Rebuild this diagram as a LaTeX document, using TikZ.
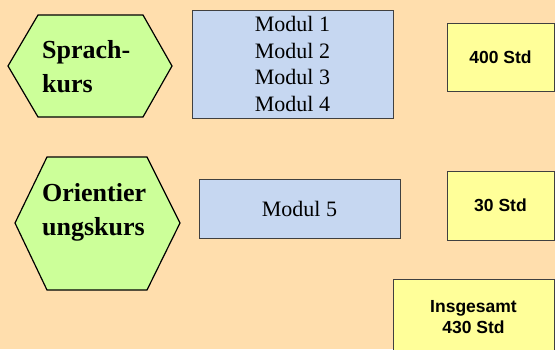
\documentclass[tikz,border=0pt]{standalone}
\usepackage{fontspec}
\setmainfont{Liberation Serif}
\newfontfamily\timesfont{Liberation Serif}
\newfontfamily\arialfont{Liberation Sans}
\definecolor{peach}{RGB}{255,222,173}
\definecolor{hexgreen}{RGB}{204,255,153}
\definecolor{modblue}{RGB}{198,215,241}
\definecolor{stdyellow}{RGB}{255,255,153}
\tikzset{
  hexa/.style={draw=black, fill=hexgreen, line width=1.2pt, line join=miter},
  hextext/.style={align=left, anchor=west, inner sep=0pt,
    font=\timesfont\fontsize{26}{34}\selectfont\bfseries},
  modbox/.style={draw=black!75, fill=modblue, line width=0.8pt, align=center,
    inner sep=0pt, font=\timesfont\fontsize{22}{26.5}\selectfont},
  stdbox/.style={draw=black!75, fill=stdyellow, line width=0.8pt, align=center,
    inner sep=0pt, font=\arialfont\fontsize{17.5}{21}\selectfont\bfseries}
}
\begin{document}
\begin{tikzpicture}[x=1pt, y=-1pt]
\useasboundingbox (0,0) rectangle (555,349);
\fill[peach] (0,0) rectangle (555,349);

% Sprachkurs
\draw[hexa] (8,66) -- (38,15) -- (143,15) -- (172,66) -- (143,117) -- (38,117) -- cycle;
\node[hextext] (sprach) at (42,67) {Sprach-\\kurs};
\node[modbox, minimum width=201pt, minimum height=108pt] (mod14) at (292.5,64)
  {Modul 1\\Modul 2\\Modul 3\\Modul 4};
\node[stdbox, minimum width=107pt, minimum height=68pt] (std400) at (500.5,57) {400 Std};

% Orientierungskurs
\draw[hexa] (15,223) -- (47,157) -- (147,157) -- (180,223) -- (147,290) -- (47,290) -- cycle;
\node[hextext] (orient) at (42,212) {Orientier\\ungskurs};
\node[modbox, minimum width=201pt, minimum height=59pt] (mod5) at (299.5,208.5) {Modul 5};
\node[stdbox, minimum width=107pt, minimum height=69pt] (std30) at (500.5,205.5) {30 Std};

% Summe
\node[stdbox, minimum width=161pt, minimum height=76pt] (total) at (473.5,317)
  {Insgesamt\\430 Std};
\end{tikzpicture}
\end{document}
